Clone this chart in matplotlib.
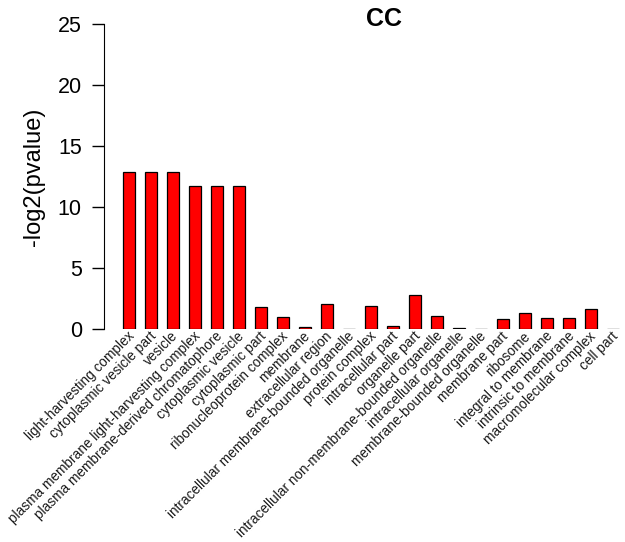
import matplotlib
matplotlib.use("Agg")
import matplotlib.pyplot as plt
from matplotlib.transforms import offset_copy

plt.rcParams['font.family'] = ['Liberation Sans', 'DejaVu Sans']

categories = [
    "light-harvesting complex",
    "cytoplasmic vesicle part",
    "vesicle",
    "plasma membrane light-harvesting complex",
    "plasma membrane-derived chromatophore",
    "cytoplasmic vesicle",
    "cytoplasmic part",
    "ribonucleoprotein complex",
    "membrane",
    "extracellular region",
    "intracellular membrane-bounded organelle",
    "protein complex",
    "intracellular part",
    "organelle part",
    "intracellular non-membrane-bounded organelle",
    "intracellular organelle",
    "membrane-bounded organelle",
    "membrane part",
    "ribosome",
    "integral to membrane",
    "intrinsic to membrane",
    "macromolecular complex",
    "cell part",
]
values = [12.85, 12.85, 12.85, 11.75, 11.75, 11.75, 1.83, 1.0, 0.15, 2.03,
          0.02, 1.88, 0.22, 2.75, 1.1, 0.05, 0.02, 0.83, 1.35, 0.93, 0.93,
          1.66, 0.02]
yticks = [0, 5, 10, 15, 20, 25]

W, H = 625, 542
fig = plt.figure(figsize=(W / 100, H / 100), dpi=100)
left, right, top, bottom = 104, 625, 24, 329
ax = fig.add_axes([left / W, 1 - bottom / H, (right - left) / W, (bottom - top) / H])

x = list(range(len(categories)))
ax.bar(x, values, width=0.55, color='#ff0000', edgecolor='black', linewidth=0.9)

ax.set_ylim(0, 25)
ax.set_xlim(-(129 - left) / 22, (right - 129) / 22)
ax.set_yticks(yticks)
ax.set_yticklabels([str(t) for t in yticks], fontsize=15.5)
ax.tick_params(axis='y', length=9, width=1, pad=7, direction='out')
ax.set_xticks([])
for s in ['top', 'right', 'bottom']:
    ax.spines[s].set_visible(False)
ax.spines['left'].set_bounds(0, 25)

ax.set_ylabel('-log2(pvalue)', fontsize=17, labelpad=9)
fig.text(384 / W, 1 - 19 / H, 'CC', fontsize=18, fontweight='bold', ha='center', va='center')

trans = offset_copy(ax.transData, fig=fig, x=3, y=-5, units='dots')
for xi, lab in zip(x, categories):
    ax.text(xi, 0, lab, rotation=45, rotation_mode='anchor', ha='right', va='center',
            fontsize=9.8, color='#1a1a1a', transform=trans, clip_on=False)

fig.savefig('out.png', dpi=100)
